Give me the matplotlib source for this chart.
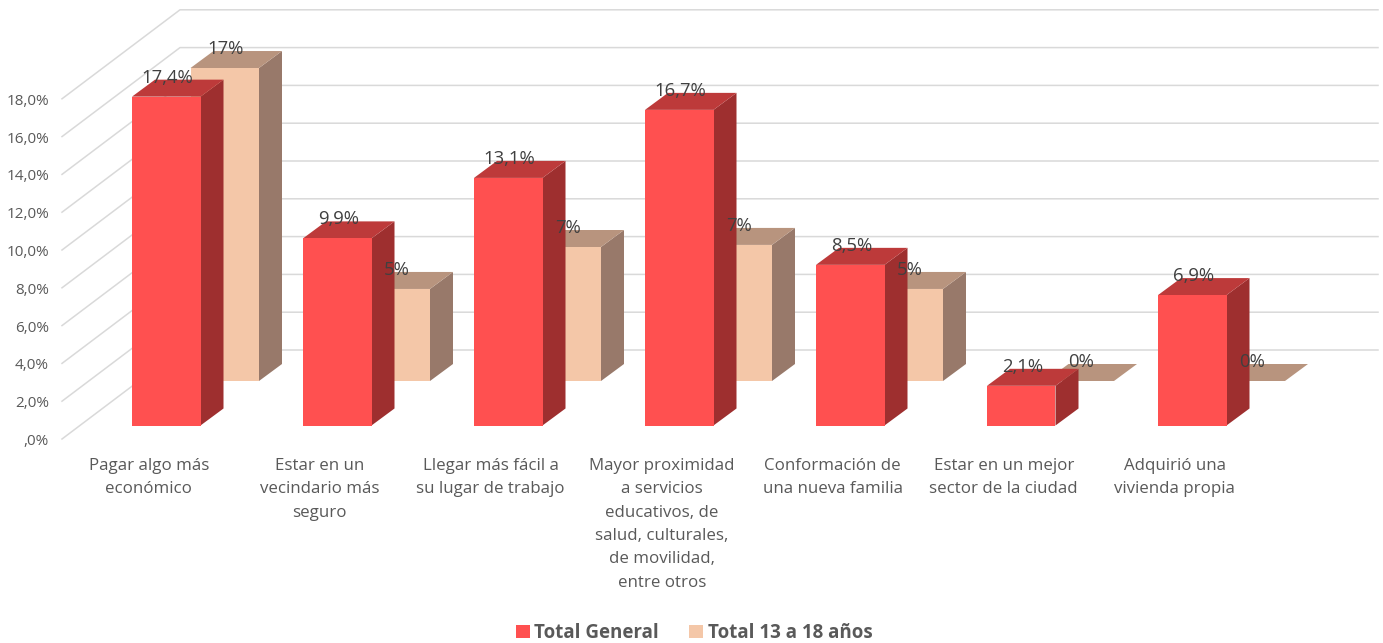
import matplotlib
matplotlib.use('Agg')
import matplotlib.pyplot as plt

categorias = [
    'Pagar algo más\neconómico',
    'Estar en un\nvecindario más\nseguro',
    'Llegar más fácil a\nsu lugar de trabajo',
    'Mayor proximidad\na servicios\neducativos, de\nsalud, culturales,\nde movilidad,\nentre otros',
    'Conformación de\nuna nueva familia',
    'Estar en un mejor\nsector de la ciudad',
    'Adquirió una\nvivienda propia',
]
total_general = [17.4, 9.9, 13.1, 16.7, 8.5, 2.1, 6.9]
total_13_18 = [16.56, 4.87, 7.09, 7.2, 4.87, 0, 0]
ticks_y = [0, 2, 4, 6, 8, 10, 12, 14, 16, 18]
ticks_labels = [',0%', '2,0%', '4,0%', '6,0%', '8,0%', '10,0%', '12,0%', '14,0%', '16,0%', '18,0%']

PX_X = 171.0   # pixels per category
PX_Y = 18.9    # pixels per percent point
X0 = 166.25    # pixel of the first front bar centre
Y0 = 425.5     # pixel of the front bars base
W, H = 1383, 643


def dx(px):
    return px / PX_X


def dy(px):
    return px / PX_Y


def caja(ax, i, valor, base, ancho, color, lado, techo):
    # front face through the bar call, side and top are the oblique faces
    izq = i - ancho / 2
    der = i + ancho / 2
    px, py = dx(23), dy(17)
    ax.fill([der, der + px, der + px, der], [base, base + py, base + valor + py, base + valor],
            color=lado, lw=0, zorder=3)
    ax.fill([izq, izq + px, der + px, der], [base + valor, base + valor + py, base + valor + py, base + valor],
            color=techo, lw=0, zorder=3)


def creating_plot():
    fig = plt.figure(figsize=(W / 100, H / 100), dpi=100)
    ax = fig.add_axes([0, 0, 1, 1])
    ax.set_xlim(-X0 / PX_X, (W - X0) / PX_X)
    ax.set_ylim(-(H - Y0) / PX_Y, Y0 / PX_Y)
    ax.axis('off')

    # walls: y is percent, shifted by the depth of the floor
    cero = dy(Y0 - 439)
    x_frente = dx(62 - X0)
    x_fondo = dx(180 - X0)
    x_fin = dx(1378 - X0)
    for t in ticks_y:
        y = cero + t
        ax.plot([x_frente, x_fondo, x_fin], [y, y + dy(89), y + dy(89)], color='#d9d9d9', lw=1.1, zorder=1)

    for t, lab in zip(ticks_y, ticks_labels):
        ax.text(dx(49 - X0), cero + t - dy(2.5), lab, ha='right', va='center', fontsize=11, color='#595959')

    ancho = dx(68.5)
    n = range(len(categorias))

    # back row
    x_atras = [i + dx(58.5) for i in n]
    base_atras = dy(Y0 - 381)
    for i, v in zip(x_atras, total_13_18):
        caja(ax, i, v, base_atras, ancho, '#f4c7a8', '#98796a', '#b8947e')
    b2 = ax.bar(x_atras, total_13_18, ancho, bottom=base_atras, color='#f4c7a8', zorder=3,
                label='Total 13 a 18 años')

    # front row
    for i, v in zip(n, total_general):
        caja(ax, i, v, 0, ancho, '#ff5050', '#9e2f2f', '#bd3a3a')
    b1 = ax.bar(list(n), total_general, ancho, color='#ff5050', zorder=4, label='Total General')

    for i, v in zip(x_atras, total_13_18):
        ax.text(i + dx(1), base_atras + v + dy(19), f'{v:.0f}%', ha='center', va='center',
                fontsize=13.3, color='#404040', zorder=6)
    for i, v in zip(n, total_general):
        ax.text(i + dx(1), v + dy(19), f'{v:.1f}%'.replace('.', ','), ha='center', va='center',
                fontsize=13.3, color='#404040', zorder=6)

    for i, c in zip(n, categorias):
        ax.text(i - dx(17.5), dy(Y0 - 458), c, ha='center', va='top', fontsize=12.2, color='#595959',
                linespacing=1.61)

    leg = fig.legend(handles=[b1, b2], loc='center', bbox_to_anchor=(694 / W, 1 - 633 / H), ncols=2,
                     frameon=False, handlelength=0.75, handleheight=0.75, handletextpad=0.24,
                     columnspacing=1.6, prop={'weight': 'bold', 'size': 13.5})
    for t in leg.get_texts():
        t.set_color('#595959')

    fig.savefig('out.png', dpi=100)


def main():
    plt.rcParams['font.family'] = ['Open Sans', 'DejaVu Sans']
    creating_plot()


if __name__ == '__main__':
    main()
